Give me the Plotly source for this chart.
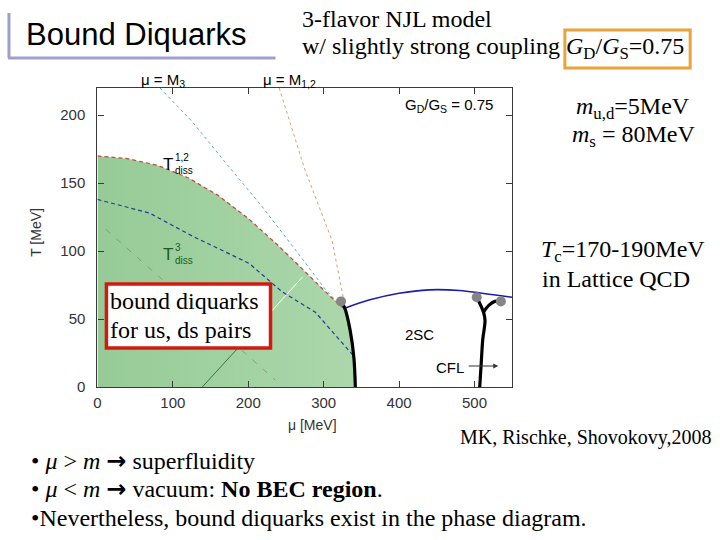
import plotly.graph_objects as go

W, H = 720, 540
HEFF = 532  # measured rendered height of the figure in the snapshot

# ---------------- data ----------------
mu_tdiss12 = [0, 40, 80, 120, 160, 200, 240, 280, 310, 328]
T_tdiss12 = [170, 168, 163, 154, 141, 124, 104, 82, 66, 57]
mu_first = [323, 328, 335, 340, 342]
T_first = [63, 58, 42, 22, 0]
mu_tdiss3 = [0, 69, 126, 201, 245, 289, 338]
T_tdiss3 = [138, 128, 111, 91, 70, 55, 24]
mu_M3 = [83, 126, 170, 218, 272, 302, 322]
T_M3 = [220, 195, 165, 133, 94, 72, 60]
mu_M12 = [241, 275, 311, 326]
T_M12 = [220, 160, 108, 66]
mu_2sc = [328, 360, 400, 440, 480, 510, 550]
T_2sc = [58, 64, 69, 71.5, 71, 69, 66]
mu_cfl_stem = [503, 512, 514, 511, 509, 507]
T_cfl_stem = [66, 55, 49, 35, 18, 0]
mu_cfl_branch = [512, 519, 527, 535]
T_cfl_branch = [55, 60, 63, 63]
mu_dots = [323, 503, 535]
T_dots = [63, 66, 63]
mu_diag_low = [139, 205]
T_diag_low = [0, 40]
mu_diag_up = [228, 272]
T_diag_up = [54, 81]
mu_grey = [11, 236]
T_grey = [116, 5]
x_ticks = [0, 100, 200, 300, 400, 500]
y_ticks = [0, 50, 100, 150, 200]

# plot area in pixels
L, R, T, B = 94, 511, 88, 387


def P(x, y):
    return x / W, 1 - y / HEFF


fig = go.Figure()

# green region (bound diquarks)
fig.add_trace(go.Scatter(
    x=mu_tdiss12 + mu_first[1:] + [0], y=T_tdiss12 + T_first[1:] + [0],
    mode="lines", line=dict(width=0), fill="toself",
    fillgradient=dict(type="horizontal",
                      colorscale=[[0, "#96cb97"], [1, "#acd7ab"]]),
    hoverinfo="skip", showlegend=False))

fig.add_trace(go.Scatter(x=mu_grey, y=T_grey, mode="lines",
                         line=dict(color="rgba(70,110,70,0.45)", width=1, dash="6px,8px"),
                         showlegend=False))
fig.add_trace(go.Scatter(x=mu_diag_low, y=T_diag_low, mode="lines",
                         line=dict(color="#2f6a2f", width=0.9), showlegend=False))
fig.add_trace(go.Scatter(x=mu_diag_up, y=T_diag_up, mode="lines",
                         line=dict(color="white", width=1), showlegend=False))
fig.add_trace(go.Scatter(x=mu_tdiss3, y=T_tdiss3, mode="lines",
                         line=dict(color="#1f3f8f", width=1.2, dash="4px,3px"), showlegend=False))
fig.add_trace(go.Scatter(x=mu_M3, y=T_M3, mode="lines",
                         line=dict(color="#5aa8dc", width=1, dash="dot"), showlegend=False))
fig.add_trace(go.Scatter(x=mu_M12, y=T_M12, mode="lines",
                         line=dict(color="#d9a070", width=1, dash="dot"), showlegend=False))
fig.add_trace(go.Scatter(x=mu_tdiss12, y=T_tdiss12, mode="lines",
                         line=dict(color="#c04a3a", width=1.2, dash="4px,3px"), showlegend=False))
fig.add_trace(go.Scatter(x=mu_2sc, y=T_2sc, mode="lines", line_shape="spline",
                         line=dict(color="#1c1ca8", width=1.6), showlegend=False))
fig.add_trace(go.Scatter(x=mu_first, y=T_first, mode="lines", line_shape="spline",
                         line=dict(color="black", width=3.2), showlegend=False))
fig.add_trace(go.Scatter(x=mu_cfl_stem, y=T_cfl_stem, mode="lines", line_shape="spline",
                         line=dict(color="black", width=3.2), showlegend=False))
fig.add_trace(go.Scatter(x=mu_cfl_branch, y=T_cfl_branch, mode="lines", line_shape="spline",
                         line=dict(color="black", width=3.2), showlegend=False))
fig.add_trace(go.Scatter(x=mu_dots, y=T_dots, mode="markers",
                         marker=dict(color="#858585", size=10), showlegend=False))

axis_common = dict(showgrid=False, zeroline=False, showline=True, linecolor="#3a3a3a",
                   linewidth=1.3, mirror="ticks", ticks="inside", ticklen=6,
                   tickcolor="#3a3a3a",
                   tickfont=dict(family="Liberation Sans, Arial", size=15, color="#333"))

fig.update_layout(
    width=W, height=H, margin=dict(l=0, r=0, t=0, b=0),
    paper_bgcolor="white", plot_bgcolor="white",
    xaxis=dict(range=[0, 550], domain=[L / W, R / W], tickvals=x_ticks,
               ticklabelstandoff=2, **axis_common),
    yaxis=dict(range=[0, 220], domain=[1 - B / HEFF, 1 - T / HEFF], tickvals=y_ticks,
               ticklabelstandoff=8, **axis_common),
)

ann = []


def text(x, y, s, size, family="Liberation Serif, Times New Roman", color="black",
         xanchor="left", yanchor="middle", align="left"):
    px, py = P(x, y)
    ann.append(dict(x=px, y=py, xref="paper", yref="paper", text=s, showarrow=False,
                    xanchor=xanchor, yanchor=yanchor, align=align, borderpad=0,
                    font=dict(family=family, size=size, color=color)))


SANS = "Liberation Sans, Arial"
ARROW = "<span style=\"font-family:'DejaVu Sans';font-weight:bold\">→</span>"
# slide title
text(21, 34, "Bound Diquarks", 31, family=SANS)
text(299, 19, "3-flavor NJL model", 24)
text(299, 48, "w/ slightly strong coupling <i>G</i><sub>D</sub>/<i>G</i><sub>S</sub>=0.75", 24)
text(633, 108, "<i>m</i><sub>u,d</sub>=5MeV", 24, xanchor="center")
text(633, 136, "<i>m</i><sub>s</sub> = 80MeV", 24, xanchor="center")
text(622, 251, "<i>T</i><sub>c</sub>=170-190MeV", 24, xanchor="center")
text(615, 279, "in Lattice QCD", 24, xanchor="center")
text(712, 437, "MK, Rischke, Shovokovy,2008", 20, xanchor="right")
text(26, 461, "• <i>μ</i> > <i>m</i> " + ARROW + " superfluidity", 24)
text(26, 489, "• <i>μ</i> < <i>m</i> " + ARROW + " vacuum: <b>No BEC region</b>.", 24)
text(26, 518, "•Nevertheless, bound diquarks exist in the phase diagram.", 24)
text(106, 301, "bound diquarks", 24)
text(106, 330, "for us, ds pairs", 24)

# plot labels
text(160, 80, "μ = M<sub>3</sub>", 15, family=SANS, xanchor="center")
text(287, 80, "μ = M<sub>1,2</sub>", 15, family=SANS, xanchor="center")
text(447, 105, "G<sub>D</sub>/G<sub>S</sub> = 0.75", 15, family=SANS, xanchor="center")
text(171, 164, "T", 17, family=SANS, xanchor="right")
text(171, 164, "1,2<br>diss", 10, family=SANS)
text(171, 254, "T", 17, family=SANS, color="#1e5a1e", xanchor="right")
text(171, 254, "3<br>diss", 10, family=SANS, color="#1e5a1e")
text(418, 334, "2SC", 15, family=SANS, xanchor="center")
text(448, 367, "CFL", 15, family=SANS, xanchor="center")
text(310, 425, "μ [MeV]", 14, family=SANS, color="#333", xanchor="center")
ax1, ay1 = P(497, 366)
ann.append(dict(x=ax1, y=ay1, ax=-31, ay=0, xref="paper", yref="paper",
                showarrow=True, arrowhead=2,
                arrowsize=1, arrowwidth=1, arrowcolor="#333", text=""))
yx, yy = P(32, 232)
ann.append(dict(x=yx, y=yy, xref="paper", yref="paper", text="T [MeV]", showarrow=False,
                xanchor="center", yanchor="middle",
                textangle=-90, font=dict(family=SANS, size=14, color="#333")))
fig.update_layout(annotations=ann)

# shapes: slide decorations and boxes
shapes = []


def rect(x0, y0, x1, y1, color, width, fill=None):
    a, b = P(x0, y0)
    c, d = P(x1, y1)
    shapes.append(dict(type="rect", xref="paper", yref="paper", x0=a, y0=b, x1=c, y1=d,
                       line=dict(color=color, width=width),
                       fillcolor=fill if fill else "rgba(0,0,0,0)", layer="above"))


def line(x0, y0, x1, y1, color, width):
    a, b = P(x0, y0)
    c, d = P(x1, y1)
    shapes.append(dict(type="line", xref="paper", yref="paper", x0=a, y0=b, x1=c, y1=d,
                       line=dict(color=color, width=width), layer="above"))


line(5, 13, 5, 58, "#a09fcb", 3)
line(4, 58, 273, 58, "#a09fcb", 3)
rect(564, 30, 690, 68, "#e8a33a", 3)
rect(103, 284, 268, 348, "#d21a12", 3.5, fill="white")
fig.update_layout(shapes=shapes)

fig.write_html("out.html", config={"displayModeBar": False},
               post_script="document.body.style.margin='0px';"
                           "document.documentElement.style.overflow='hidden';")
